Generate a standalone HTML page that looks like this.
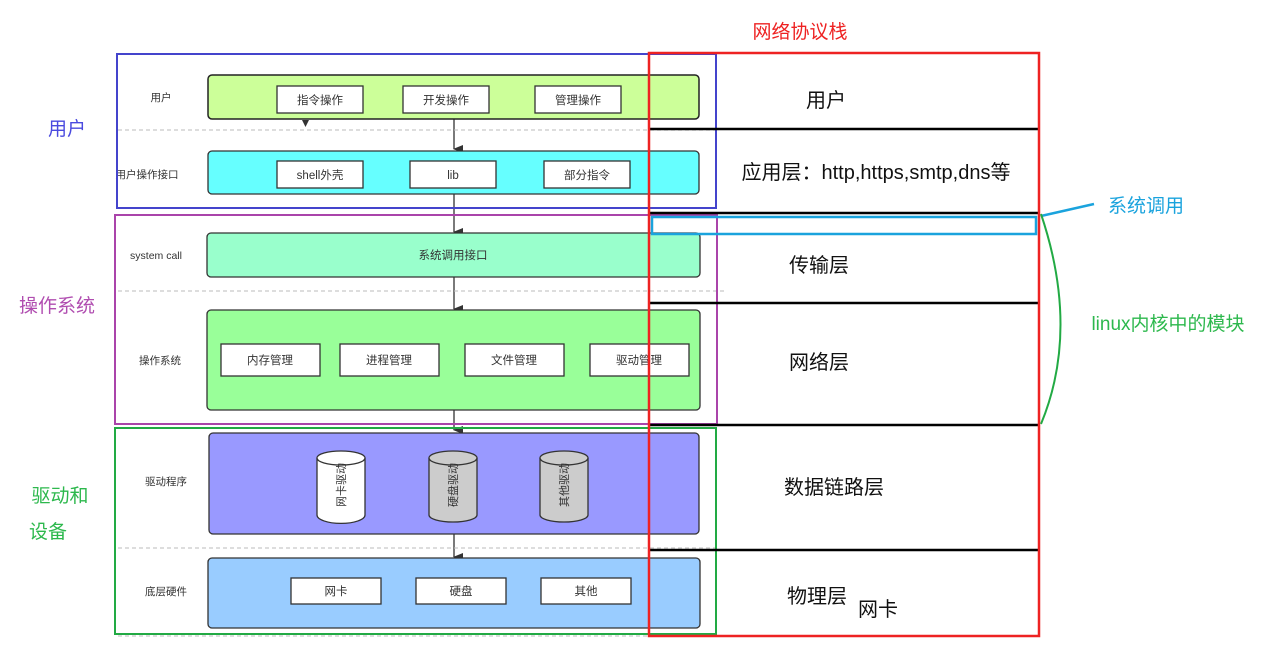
<!DOCTYPE html>
<html><head><meta charset="utf-8"><style>
html,body{margin:0;padding:0;background:#fff;}
svg{display:block;font-family:"Liberation Sans","Noto Sans CJK SC",sans-serif;}
</style></head><body>
<svg width="1276" height="651" viewBox="0 0 1276 651" xmlns="http://www.w3.org/2000/svg">
<defs>
<marker id="ar" markerWidth="8" markerHeight="10" refX="4" refY="9" orient="auto" markerUnits="userSpaceOnUse">
<path d="M0,0 L8,0 L4,10 z" fill="#333"/></marker>
</defs>
<g stroke="#333" stroke-width="1.3" fill="none">
<line x1="454" y1="119" x2="454" y2="149" marker-end="url(#ar)"/>
<line x1="454" y1="194" x2="454" y2="232" marker-end="url(#ar)"/>
<line x1="454" y1="277" x2="454" y2="309" marker-end="url(#ar)"/>
<line x1="454" y1="410" x2="454" y2="430" marker-end="url(#ar)"/>
<line x1="454" y1="534" x2="454" y2="557" marker-end="url(#ar)"/>
</g>
<path d="M302,120 L309,120 L305.5,127 z" fill="#333"/>
<g stroke="#bbb" stroke-width="1" stroke-dasharray="4,3">
<line x1="118" y1="130" x2="716" y2="130"/>
<line x1="118" y1="291" x2="726" y2="291"/>
<line x1="118" y1="548" x2="716" y2="548"/>
<line x1="118" y1="636" x2="716" y2="636"/>
</g>
<!-- user row -->
<rect x="208" y="75" width="491" height="44" rx="4" fill="#ccff99" stroke="#222" stroke-width="1.5"/>
<g fill="#fff" stroke="#333" stroke-width="1.3">
<rect x="277" y="86" width="86" height="27"/><rect x="403" y="86" width="86" height="27"/><rect x="535" y="86" width="86" height="27"/>
</g>
<rect x="208" y="151" width="491" height="43" rx="4" fill="#66ffff" stroke="#333" stroke-width="1.3"/>
<g fill="#fff" stroke="#333" stroke-width="1.3">
<rect x="277" y="161" width="86" height="27"/><rect x="410" y="161" width="86" height="27"/><rect x="544" y="161" width="86" height="27"/>
</g>
<rect x="207" y="233" width="493" height="44" rx="4" fill="#99ffcc" stroke="#333" stroke-width="1.3"/>
<rect x="207" y="310" width="493" height="100" rx="4" fill="#99ff99" stroke="#333" stroke-width="1.3"/>
<g fill="#fff" stroke="#333" stroke-width="1.3">
<rect x="221" y="344" width="99" height="32"/><rect x="340" y="344" width="99" height="32"/><rect x="465" y="344" width="99" height="32"/><rect x="590" y="344" width="99" height="32"/>
</g>
<rect x="209" y="433" width="490" height="101" rx="4" fill="#9999ff" stroke="#333" stroke-width="1.3"/>
<g stroke="#333" stroke-width="1.3">
<path d="M317,458 L317,515 A20,7 0 0 0 365,515 L365,458" fill="#fff"/>
<ellipse cx="341" cy="458" rx="24" ry="7" fill="#fff"/>
<path d="M429,458 L429,515 A24,7 0 0 0 477,515 L477,458" fill="#ccc"/>
<ellipse cx="453" cy="458" rx="24" ry="7" fill="#ccc"/>
<path d="M540,458 L540,515 A24,7 0 0 0 588,515 L588,458" fill="#ccc"/>
<ellipse cx="564" cy="458" rx="24" ry="7" fill="#ccc"/>
</g>
<g font-size="11" fill="#333" text-anchor="middle">
<text transform="translate(345,485) rotate(-90)">网卡驱动</text>
<text transform="translate(457,485) rotate(-90)">硬盘驱动</text>
<text transform="translate(568,485) rotate(-90)">其他驱动</text>
</g>
<rect x="208" y="558" width="492" height="70" rx="4" fill="#99ccff" stroke="#333" stroke-width="1.3"/>
<g fill="#fff" stroke="#333" stroke-width="1.3">
<rect x="291" y="578" width="90" height="26"/><rect x="416" y="578" width="90" height="26"/><rect x="541" y="578" width="90" height="26"/>
</g>
<g font-size="11.5" fill="#333" text-anchor="middle">
<text x="320" y="104">指令操作</text><text x="446" y="104">开发操作</text><text x="578" y="104">管理操作</text>
<text x="320" y="179">shell外壳</text><text x="453" y="179">lib</text><text x="587" y="179">部分指令</text>
<text x="453" y="259">系统调用接口</text>
<text x="270" y="364">内存管理</text><text x="389" y="364">进程管理</text><text x="514" y="364">文件管理</text><text x="639" y="364">驱动管理</text>
<text x="336" y="595">网卡</text><text x="461" y="595">硬盘</text><text x="586" y="595">其他</text>
</g>
<g font-size="10.5" fill="#333" text-anchor="middle">
<text x="161" y="101">用户</text>
<text x="147" y="178">用户操作接口</text>
<text x="156" y="259">system call</text>
<text x="160" y="364">操作系统</text>
<text x="166" y="485">驱动程序</text>
<text x="166" y="595">底层硬件</text>
</g>
<!-- section frames -->
<rect x="117" y="54" width="599" height="154" fill="none" stroke="#4444cc" stroke-width="2"/>
<rect x="115" y="215" width="602" height="209" fill="none" stroke="#aa44aa" stroke-width="2"/>
<rect x="115" y="428" width="601" height="206" fill="none" stroke="#22aa44" stroke-width="2"/>
<g font-size="19" text-anchor="middle">
<text x="67" y="135" fill="#4a4adf">用户</text>
<text x="57" y="312" fill="#b04db0">操作系统</text>
<text x="60" y="502" fill="#2db84d">驱动和</text>
<text x="48" y="538" fill="#2db84d">设备</text>
</g>
<!-- network stack -->
<g stroke="#000" stroke-width="2.5">
<line x1="648" y1="129" x2="1039" y2="129"/>
<line x1="648" y1="213" x2="1039" y2="213"/>
<line x1="648" y1="303" x2="1039" y2="303"/>
<line x1="648" y1="425" x2="1039" y2="425"/>
<line x1="648" y1="550" x2="1039" y2="550"/>
</g>
<rect x="652" y="217" width="384" height="17" fill="none" stroke="#1aa3dd" stroke-width="2.5"/>
<rect x="649" y="53" width="390" height="583" fill="none" stroke="#ee2222" stroke-width="2.5"/>
<line x1="1041" y1="216" x2="1094" y2="204" stroke="#1aa3dd" stroke-width="2.5"/>
<path d="M1041,214 Q1080,330 1041,424" fill="none" stroke="#22aa44" stroke-width="2"/>
<text x="800" y="38" font-size="19" fill="#ee2222" text-anchor="middle">网络协议栈</text>
<g font-size="20" fill="#111" text-anchor="middle">
<text x="826" y="107">用户</text>
<text x="876" y="179">应用层：http,https,smtp,dns等</text>
<text x="819" y="272">传输层</text>
<text x="819" y="369">网络层</text>
<text x="834" y="494">数据链路层</text>
<text x="817" y="603">物理层</text>
<text x="878" y="616">网卡</text>
</g>
<text x="1146" y="212" font-size="19" fill="#1aa3dd" text-anchor="middle">系统调用</text>
<text x="1168" y="330" font-size="19" fill="#2db84d" text-anchor="middle">linux内核中的模块</text>
</svg>
</body></html>
